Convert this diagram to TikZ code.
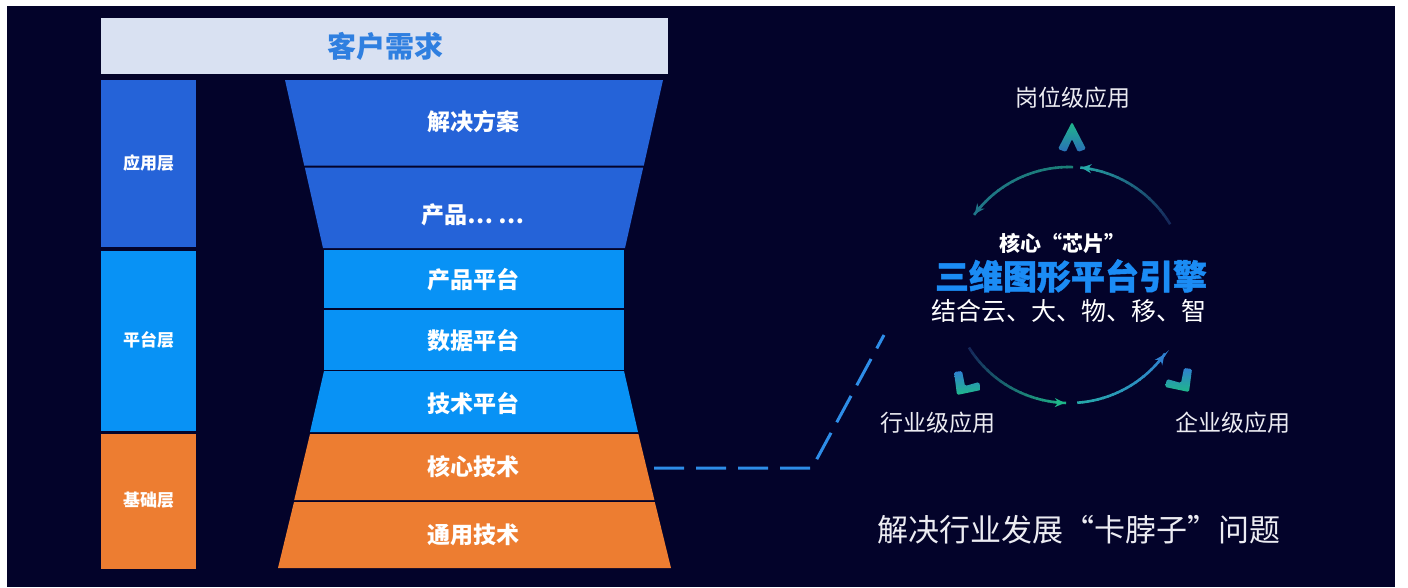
\documentclass[tikz,border=0pt]{standalone}
\usepackage{fontspec}
\setmainfont{Noto Sans CJK SC}
\newfontfamily\heavyfont{Noto Sans CJK SC}[BoldFeatures={FakeBold=1.2}]
\usetikzlibrary{arrows.meta,calc}
\definecolor{bg}{HTML}{03032A}
\definecolor{topbox}{HTML}{D9E1F2}
\definecolor{topfont}{HTML}{2F7FE0}
\definecolor{appblue}{HTML}{2563D8}
\definecolor{platblue}{HTML}{0892F5}
\definecolor{baseorange}{HTML}{ED7D31}
\definecolor{dashblue}{HTML}{2E8DE8}
\definecolor{titleblue}{HTML}{1B8CF5}
\definecolor{lbl}{HTML}{ECECF2}
\definecolor{cgreen}{HTML}{1FB889}
\definecolor{cteal}{HTML}{26A8A8}
\definecolor{cblue}{HTML}{2F80D0}
\definecolor{cdark}{HTML}{15285A}
\newcommand{\gradarc}[5]{%
  \foreach \i in {0,...,19}{%
    \pgfmathsetmacro\aa{#1+(#2-#1)*\i/20}%
    \pgfmathsetmacro\bb{#1+(#2-#1)*(\i+1.2)/20}%
    \pgfmathsetmacro\pc{100-\i*5}%
    \draw[line width=2.6pt, color=#3!\pc!#4] ($(C)+(\aa:#5)$) arc[start angle=\aa, end angle=\bb, radius=#5];
  }%
  \pgfmathsetmacro\cc{#2-(#2-#1)*0.08}%
  \draw[line width=2.6pt, color=#4, -{Stealth[length=10pt,width=9pt]}] ($(C)+(\cc:#5)$) arc[start angle=\cc, end angle=#2, radius=#5];
}
\tikzset{
  seglabel/.style={text=white, font=\fontsize{23}{23}\selectfont\bfseries, inner sep=0pt},
  layerlabel/.style={text=white, font=\fontsize{17}{17}\selectfont\bfseries, inner sep=0pt},
  cyclelabel/.style={text=lbl, font=\fontsize{23}{23}\selectfont, inner sep=0pt},
  dashline/.style={dashblue, line width=3pt, dash pattern=on 30pt off 12pt},
}
\begin{document}
\begin{tikzpicture}[x=1pt,y=-1pt]
\useasboundingbox (0,0) rectangle (1408,587);
\fill[white] (0,0) rectangle (1408,587);
\fill[bg] (7,6) rectangle (1395,587);

% top box
\fill[topbox] (101,18) rectangle (668,74);
\node[text=topfont, font=\fontsize{29}{29}\selectfont\bfseries, inner sep=0pt] (need) at (385,46) {客户需求};

% left column
\fill[appblue] (101,80) rectangle (196,247);
\fill[platblue] (101,251) rectangle (196,431);
\fill[baseorange] (101,434) rectangle (196,569);
\node[layerlabel] (l1) at (148.5,163) {应用层};
\node[layerlabel] (l2) at (148.5,340) {平台层};
\node[layerlabel] (l3) at (148.5,500) {基础层};

% funnel
\fill[appblue] (285,80) -- (663,80) -- (643.8,165.5) -- (304.2,165.5) -- cycle;
\fill[appblue] (304.8,167.5) -- (643.2,167.5) -- (625,248) -- (323,248) -- cycle;
\fill[platblue] (324,250) rectangle (624,307.5);
\fill[platblue] (324,309.5) rectangle (624,369.5);
\fill[platblue] (324,371) -- (624,371) -- (638,432) -- (310,432) -- cycle;
\fill[baseorange] (310,434) -- (638.4,434) -- (654.4,500) -- (294.2,500) -- cycle;
\fill[baseorange] (294,502) -- (654.8,502) -- (671,568) -- (278,568) -- cycle;

\node[seglabel] (s1) at (473,122) {解决方案};
\node[seglabel] (s2) at (473,215) {产品… …};
\node[seglabel] (s3) at (473,280) {产品平台};
\node[seglabel] (s4) at (473,341) {数据平台};
\node[seglabel] (s5) at (473,403) {技术平台};
\node[seglabel] (s6) at (473,467) {核心技术};
\node[seglabel] (s7) at (473,535) {通用技术};

% dashed connector
\coordinate (d0) at (654,468);
\coordinate (d1) at (812,468);
\coordinate (d2) at (884,335);
\draw[dashline] (d0) -- (d1) -- (d2);

% cycle
\coordinate (C) at (1069,285);
\gradarc{-88}{-143}{cgreen}{cteal!60!cdark}{118}
\gradarc{-31}{-84}{cdark}{cteal}{118}
\gradarc{-212}{-268}{cdark}{cgreen}{118}
\gradarc{-274}{-324}{cteal}{cblue}{118}

% chevrons
\shade[top color=cgreen, bottom color=cblue!80!cdark, rounded corners=1.5pt]
  (1072,122) -- (1086,149) -- (1078,152) -- (1072,139) -- (1066,152) -- (1058,149) -- cycle;
\shade[top color=cblue, bottom color=cgreen, rounded corners=1.5pt]
  (954,372) -- (962,371) -- (965,386) -- (979,382) -- (981,390) -- (957,395) -- cycle;
\shade[top color=cblue, bottom color=cgreen, rounded corners=1.5pt]
  (1192,369) -- (1184,368) -- (1181,383) -- (1167,379) -- (1165,387) -- (1189,392) -- cycle;

\node[cyclelabel] (t1) at (1073,98) {岗位级应用};
\node[cyclelabel] (t2) at (938,423) {行业级应用};
\node[cyclelabel] (t3) at (1233,423) {企业级应用};

\node[text=white, font=\fontsize{21}{21}\selectfont\bfseries, inner sep=0pt] (core) at (1062,243) {核心“芯片”};
\node[text=titleblue, font=\fontsize{34}{34}\selectfont\heavyfont\bfseries, inner sep=0pt] (engine) at (1071,276) {三维图形平台引擎};
\node[text=white, font=\fontsize{25}{25}\selectfont, inner sep=0pt] (combo) at (1069,311) {结合云、大、物、移、智};

\node[text=lbl, font=\fontsize{31}{31}\selectfont, inner sep=0pt] (bottom) at (1079,530) {解决行业发展“卡脖子”问题};
\end{tikzpicture}
\end{document}
